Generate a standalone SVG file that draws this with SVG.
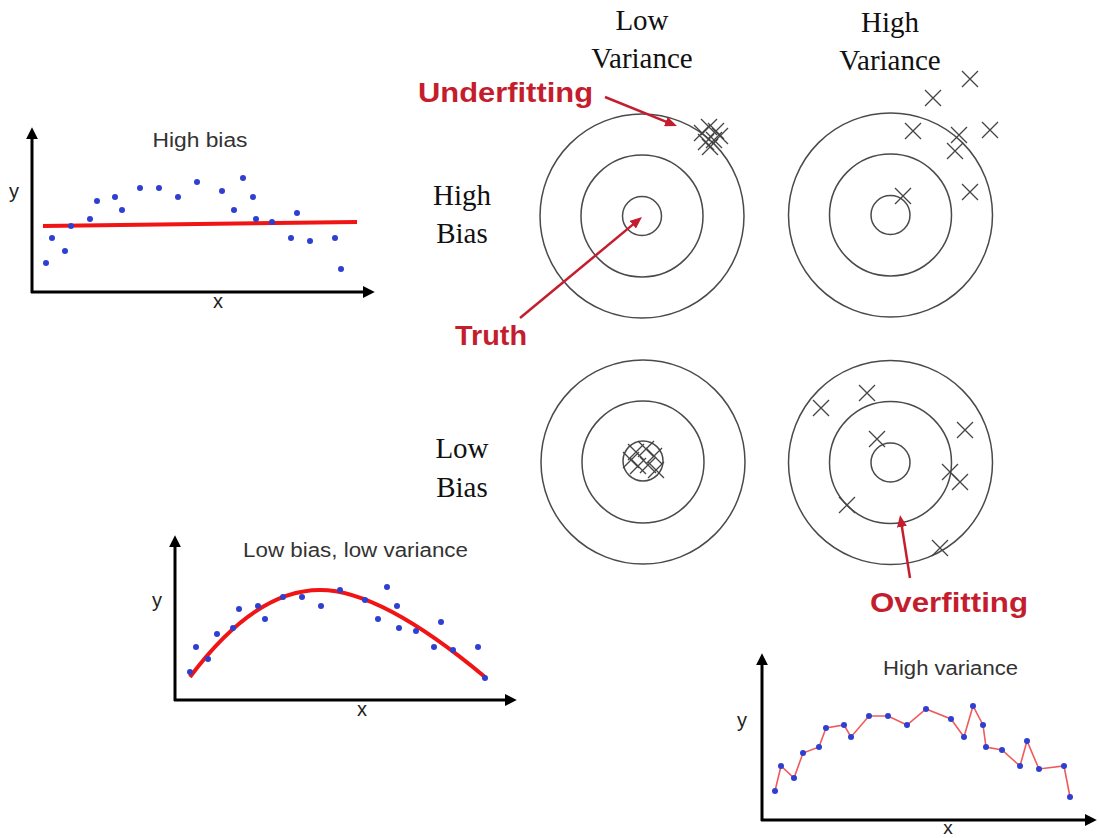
<svg xmlns="http://www.w3.org/2000/svg" width="1099" height="838" viewBox="0 0 1099 838">
<style>
.ring{fill:none;stroke:#4a4a4a;stroke-width:1.5}
.xm{fill:none;stroke:#444;stroke-width:1.3}
.big{font-family:"Liberation Serif","Times New Roman",serif;font-size:29px;fill:#111;text-anchor:middle}
.red{font-family:"Liberation Sans",Arial,sans-serif;font-weight:bold;font-size:28px;fill:#c41e2e}
.title{font-family:"Liberation Sans",Arial,sans-serif;font-size:20px;fill:#333;text-anchor:middle}
.ax{font-family:"Liberation Sans",Arial,sans-serif;font-size:20px;fill:#222;text-anchor:middle}
.axis{stroke:#000;stroke-width:3;fill:none}
.dot circle{fill:#2f3fd0}
.rarrow{stroke:#c41e2e;stroke-width:2.5;fill:none}
</style>
<defs>
<marker id="ah" viewBox="0 0 10 10" markerWidth="12" markerHeight="12" refX="1" refY="5" orient="auto" markerUnits="userSpaceOnUse"><path d="M0,0 L10,5 L0,10 z" fill="#000"/></marker>
<marker id="rh" viewBox="0 0 12 10" markerWidth="12" markerHeight="10" refX="2" refY="5" orient="auto" markerUnits="userSpaceOnUse"><path d="M0,0 L12,5 L0,10 z" fill="#c41e2e"/></marker>
<path id="cx" class="xm" d="M-8,-8 L8,8 M-8,8 L8,-8"/>
</defs>
<rect width="1099" height="838" fill="#fff"/>

<g id="labels">
<text class="big" x="642" y="30">Low</text>
<text class="big" x="642" y="68">Variance</text>
<text class="big" x="890" y="32">High</text>
<text class="big" x="890" y="70">Variance</text>
<text class="big" x="462" y="205">High</text>
<text class="big" x="462" y="243">Bias</text>
<text class="big" x="462" y="458">Low</text>
<text class="big" x="462" y="497">Bias</text>
<text class="red" x="418" y="102" textLength="175" lengthAdjust="spacingAndGlyphs">Underfitting</text>
<text class="red" x="455" y="345" textLength="72" lengthAdjust="spacingAndGlyphs">Truth</text>
<text class="red" x="870" y="612" textLength="158" lengthAdjust="spacingAndGlyphs">Overfitting</text>
</g>

<g id="target-hb-lv">
<circle class="ring" cx="642" cy="216" r="102"/>
<circle class="ring" cx="642" cy="216" r="61"/>
<circle class="ring" cx="642" cy="216" r="19.5"/>
<use href="#cx" x="702" y="133"/><use href="#cx" x="709" y="127"/><use href="#cx" x="716" y="131"/>
<use href="#cx" x="706" y="142"/><use href="#cx" x="714" y="140"/><use href="#cx" x="720" y="136"/>
<use href="#cx" x="710" y="147"/>
</g>

<g id="target-hb-hv">
<circle class="ring" cx="890.5" cy="215" r="102"/>
<circle class="ring" cx="890.5" cy="215" r="61"/>
<circle class="ring" cx="890.5" cy="215" r="19.5"/>
<use href="#cx" x="970" y="79"/><use href="#cx" x="933" y="98"/><use href="#cx" x="913" y="131"/>
<use href="#cx" x="959" y="135"/><use href="#cx" x="990" y="130"/><use href="#cx" x="955" y="151"/>
<use href="#cx" x="970" y="192"/><use href="#cx" x="903" y="196"/>
</g>

<g id="target-lb-lv">
<circle class="ring" cx="643" cy="462" r="102"/>
<circle class="ring" cx="643" cy="462" r="61"/>
<circle class="ring" cx="643" cy="461" r="20"/>
<use href="#cx" x="636" y="452"/><use href="#cx" x="646" y="449"/><use href="#cx" x="654" y="456"/>
<use href="#cx" x="638" y="466"/><use href="#cx" x="648" y="465"/><use href="#cx" x="656" y="470"/>
<use href="#cx" x="631" y="460"/>
</g>

<g id="target-lb-hv">
<circle class="ring" cx="890.5" cy="462.5" r="102"/>
<circle class="ring" cx="890.5" cy="462.5" r="61"/>
<circle class="ring" cx="890.5" cy="462.5" r="19.5"/>
<use href="#cx" x="821" y="408"/><use href="#cx" x="867" y="393"/><use href="#cx" x="965" y="430"/>
<use href="#cx" x="877" y="439"/><use href="#cx" x="950" y="472"/><use href="#cx" x="960" y="482"/>
<use href="#cx" x="847" y="505"/><use href="#cx" x="940" y="548"/>
</g>

<g id="plot-high-bias">
<line class="axis" x1="32" y1="293" x2="32" y2="138" marker-end="url(#ah)"/>
<line class="axis" x1="31" y1="292" x2="364" y2="292" marker-end="url(#ah)"/>
<text class="title" x="200" y="147" textLength="95" lengthAdjust="spacingAndGlyphs">High bias</text>
<text class="ax" x="14" y="198">y</text>
<text class="ax" x="218" y="308">x</text>
<line x1="43" y1="226" x2="357" y2="222" stroke="#f01414" stroke-width="4"/>
<g class="dot">
<circle cx="46" cy="263" r="3"/><circle cx="52" cy="238" r="3"/><circle cx="65" cy="251" r="3"/>
<circle cx="71" cy="226" r="3"/><circle cx="90" cy="219" r="3"/><circle cx="97" cy="201" r="3"/>
<circle cx="115" cy="197" r="3"/><circle cx="122" cy="210" r="3"/><circle cx="140" cy="188" r="3"/>
<circle cx="159" cy="188" r="3"/><circle cx="178" cy="197" r="3"/><circle cx="197" cy="182" r="3"/>
<circle cx="222" cy="191" r="3"/><circle cx="234" cy="210" r="3"/><circle cx="243" cy="178" r="3"/>
<circle cx="253" cy="197" r="3"/><circle cx="256" cy="219" r="3"/><circle cx="272" cy="222" r="3"/>
<circle cx="291" cy="238" r="3"/><circle cx="297" cy="213" r="3"/><circle cx="310" cy="241" r="3"/>
<circle cx="335" cy="238" r="3"/><circle cx="341" cy="269" r="3"/>
</g>
</g>

<g id="plot-low-bias-low-variance">
<line class="axis" x1="175" y1="701" x2="175" y2="546" marker-end="url(#ah)"/>
<line class="axis" x1="174" y1="700" x2="506" y2="700" marker-end="url(#ah)"/>
<text class="title" x="355.5" y="557" textLength="225" lengthAdjust="spacingAndGlyphs">Low bias, low variance</text>
<text class="ax" x="157" y="607">y</text>
<text class="ax" x="362" y="716">x</text>
<path d="M190,677 Q255,590 320,590 Q381,590 485,677" fill="none" stroke="#f01414" stroke-width="4"/>
<g class="dot">
<circle cx="190" cy="672" r="3"/><circle cx="196" cy="647" r="3"/><circle cx="208" cy="659" r="3"/>
<circle cx="217" cy="634" r="3"/><circle cx="233" cy="628" r="3"/><circle cx="239" cy="609" r="3"/>
<circle cx="258" cy="606" r="3"/><circle cx="265" cy="619" r="3"/><circle cx="283" cy="597" r="3"/>
<circle cx="302" cy="597" r="3"/><circle cx="321" cy="606" r="3"/><circle cx="340" cy="590" r="3"/>
<circle cx="365" cy="600" r="3"/><circle cx="378" cy="619" r="3"/><circle cx="387" cy="587" r="3"/>
<circle cx="397" cy="606" r="3"/><circle cx="399" cy="628" r="3"/><circle cx="416" cy="631" r="3"/>
<circle cx="434" cy="647" r="3"/><circle cx="441" cy="622" r="3"/><circle cx="453" cy="650" r="3"/>
<circle cx="478" cy="647" r="3"/><circle cx="485" cy="678" r="3"/>
</g>
</g>

<g id="plot-high-variance">
<line class="axis" x1="762" y1="821" x2="762" y2="664" marker-end="url(#ah)"/>
<line class="axis" x1="761" y1="820" x2="1086" y2="820" marker-end="url(#ah)"/>
<text class="title" x="950.5" y="675" textLength="135" lengthAdjust="spacingAndGlyphs">High variance</text>
<text class="ax" x="742" y="727">y</text>
<text class="ax" x="948" y="834" style="font-size:19px">x</text>
<polyline fill="none" stroke="#f05a5a" stroke-width="1.6" points="775,791 781,766 794,778 803,753 819,747 826,728 844,725 851,737 869,716 888,716 907,725 926,709 951,719 964,737 973,706 983,725 986,747 1002,750 1020,766 1027,741 1039,769 1064,766 1070,797"/>
<g class="dot">
<circle cx="775" cy="791" r="3"/><circle cx="781" cy="766" r="3"/><circle cx="794" cy="778" r="3"/>
<circle cx="803" cy="753" r="3"/><circle cx="819" cy="747" r="3"/><circle cx="826" cy="728" r="3"/>
<circle cx="844" cy="725" r="3"/><circle cx="851" cy="737" r="3"/><circle cx="869" cy="716" r="3"/>
<circle cx="888" cy="716" r="3"/><circle cx="907" cy="725" r="3"/><circle cx="926" cy="709" r="3"/>
<circle cx="951" cy="719" r="3"/><circle cx="964" cy="737" r="3"/><circle cx="973" cy="706" r="3"/>
<circle cx="983" cy="725" r="3"/><circle cx="986" cy="747" r="3"/><circle cx="1002" cy="750" r="3"/>
<circle cx="1020" cy="766" r="3"/><circle cx="1027" cy="741" r="3"/><circle cx="1039" cy="769" r="3"/>
<circle cx="1064" cy="766" r="3"/><circle cx="1070" cy="797" r="3"/>
</g>
</g>

<g id="connectors">
<line class="rarrow" x1="605" y1="97" x2="667.7" y2="122.3" marker-end="url(#rh)"/>
<line class="rarrow" x1="520" y1="318" x2="634.3" y2="223.4" marker-end="url(#rh)"/>
<line class="rarrow" x1="910" y1="578" x2="901.6" y2="524.9" marker-end="url(#rh)"/>
</g>
</svg>
